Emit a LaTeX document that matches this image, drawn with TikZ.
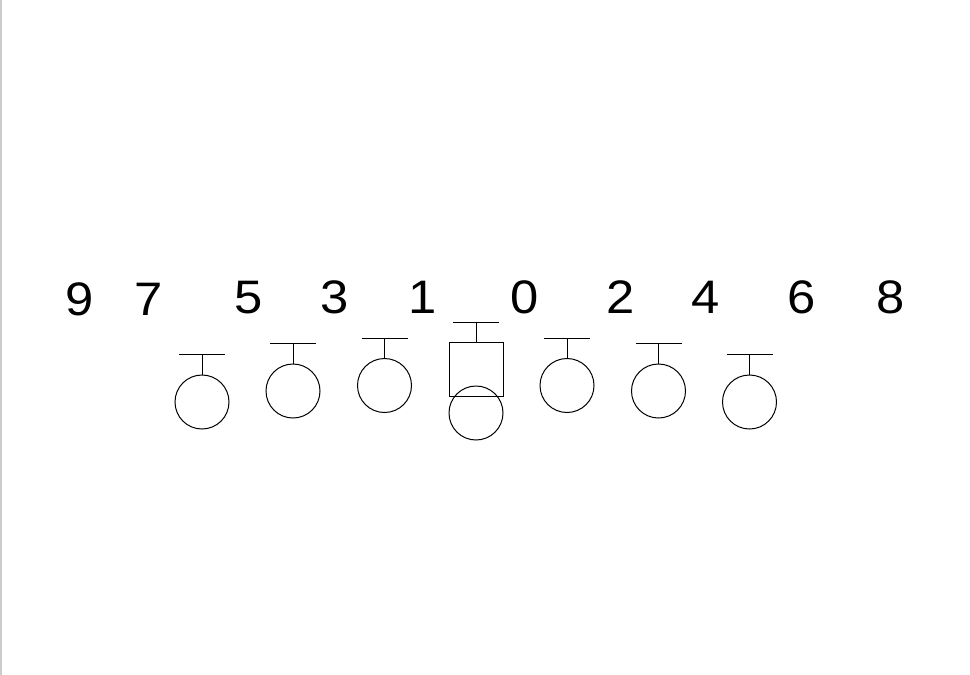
\documentclass[tikz,border=0pt]{standalone}
\usepackage{fontspec}
\setmainfont{Liberation Sans}[FakeStretch=1.08]
\begin{document}
\begin{tikzpicture}[x=1pt,y=-1pt,line width=1pt,
  player/.style={draw=black,circle,minimum size=54pt,inner sep=0pt},
  center/.style={draw=black,rectangle,minimum width=54pt,minimum height=54pt,inner sep=0pt},
  num/.style={anchor=base,inner sep=0pt,font=\fontsize{47}{56}\selectfont},
  bar/.style={draw=black,line width=1pt}]
\useasboundingbox (0,0) rectangle (970,675);
\draw[draw=black!20,line width=1.6pt] (0.8,0) -- (0.8,675);
% numbers
\node[num] (n9) at (79.5,315.5) {9};
\node[num] (n7) at (149,315.5) {7};
\node[num] (n5) at (249,313) {5};
\node[num] (n3) at (335,313) {3};
\node[num] (n1) at (423,313) {1};
\node[num] (n0) at (525,313) {0};
\node[num] (n2) at (620.5,313) {2};
\node[num] (n4) at (705.5,313) {4};
\node[num] (n6) at (802,313) {6};
\node[num] (n8) at (891,313) {8};
% players
\node[player] (c1) at (202,402) {};
\node[player] (c2) at (293,391) {};
\node[player] (c3) at (384.5,385.5) {};
\node[center] (sq) at (476,369) {};
\node[player] (cc) at (476,413) {};
\node[player] (c5) at (567,385.5) {};
\node[player] (c6) at (658.5,391) {};
\node[player] (c7) at (749.5,402) {};
% T bars
\coordinate (t1) at (202,354);
\coordinate (t2) at (293,343);
\coordinate (t3) at (384.5,338);
\coordinate (ts) at (476,322);
\coordinate (t5) at (567,338);
\coordinate (t6) at (658.5,343);
\coordinate (t7) at (749.5,354);
\foreach \t/\n in {t1/c1,t2/c2,t3/c3,ts/sq,t5/c5,t6/c6,t7/c7}{
  \draw[bar] ([xshift=-23pt]\t) -- ([xshift=23pt]\t);
  \draw[bar] (\t) -- (\n.north);
}
\end{tikzpicture}
\end{document}
